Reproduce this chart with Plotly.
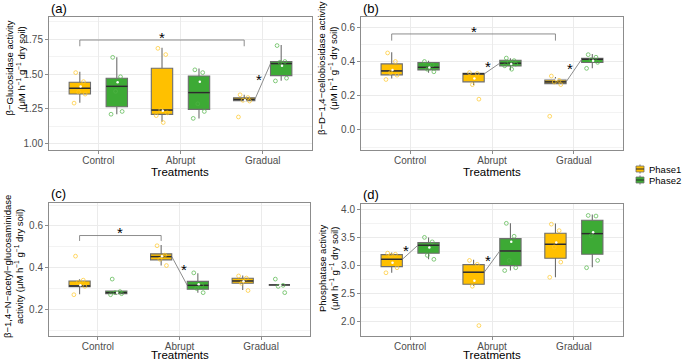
import plotly.graph_objects as go

categories = ["Control", "Abrupt", "Gradual"]
phases = ["Phase1", "Phase2"]

# stats per category: (lower whisker, q1, median, q3, upper whisker)
a_phase1_stats = [(1.293, 1.356, 1.397, 1.440, 1.517), (1.156, 1.209, 1.240, 1.541, 1.690), (1.305, 1.308, 1.317, 1.329, 1.350)]
a_phase2_stats = [(1.209, 1.264, 1.411, 1.469, 1.620), (1.180, 1.245, 1.366, 1.486, 1.540), (1.452, 1.488, 1.575, 1.589, 1.710)]
b_phase1_stats = [(0.300, 0.322, 0.345, 0.386, 0.454), (0.263, 0.281, 0.328, 0.331, 0.335), (0.270, 0.271, 0.281, 0.292, 0.310)]
b_phase2_stats = [(0.335, 0.351, 0.366, 0.394, 0.405), (0.351, 0.374, 0.390, 0.407, 0.419), (0.360, 0.394, 0.413, 0.419, 0.444)]
c_phase1_stats = [(0.272, 0.309, 0.312, 0.336, 0.344), (0.410, 0.437, 0.453, 0.466, 0.509), (0.293, 0.325, 0.336, 0.349, 0.362)]
c_phase2_stats = [(0.270, 0.275, 0.280, 0.288, 0.290), (0.280, 0.296, 0.315, 0.334, 0.373), (0.317, 0.317, 0.317, 0.317, 0.317)]
d_phase1_stats = [(2.870, 2.979, 3.110, 3.193, 3.230), (2.635, 2.665, 2.880, 3.015, 3.100), (2.790, 3.128, 3.377, 3.573, 3.745)]
d_phase2_stats = [(3.110, 3.217, 3.360, 3.407, 3.500), (2.910, 2.997, 3.258, 3.478, 3.750), (2.970, 3.199, 3.567, 3.804, 3.905)]

# individual observations
a_phase1_points = [[1.51, 1.445, 1.37, 1.355, 1.29], [1.685, 1.64, 1.24, 1.22, 1.20, 1.15], [1.35, 1.33, 1.31, 1.305, 1.19]]
a_phase2_points = [[1.62, 1.48, 1.375, 1.23, 1.21], [1.53, 1.51, 1.285, 1.23, 1.18], [1.705, 1.59, 1.585, 1.47, 1.45]]
b_phase1_points = [[0.45, 0.40, 0.335, 0.32, 0.295], [0.335, 0.33, 0.265, 0.18], [0.315, 0.29, 0.28, 0.265, 0.08]]
b_phase2_points = [[0.40, 0.38, 0.355, 0.34], [0.42, 0.405, 0.395, 0.385, 0.375, 0.355], [0.44, 0.425, 0.41, 0.395, 0.36]]
c_phase1_points = [[0.455, 0.34, 0.33, 0.31, 0.27], [0.505, 0.46, 0.44, 0.41], [0.36, 0.35, 0.325, 0.29]]
c_phase2_points = [[0.345, 0.285, 0.28, 0.275, 0.27], [0.375, 0.315, 0.30, 0.28], [0.345, 0.315, 0.31, 0.28]]
d_phase1_points = [[3.22, 3.20, 3.18, 2.96, 2.87], [3.09, 3.02, 2.63, 1.93], [3.735, 3.62, 3.33, 3.06, 2.79]]
d_phase2_points = [[3.50, 3.42, 3.18, 3.11], [3.75, 3.52, 3.09, 2.96, 2.91], [3.89, 3.88, 3.53, 3.09, 2.96]]

# group means (white dots)
a_phase1_means = [1.41, 1.235, 1.31]
a_phase2_means = [1.44, 1.445, 1.56]
b_phase1_means = [0.35, 0.30, 0.295]
b_phase2_means = [0.365, 0.385, 0.405]
c_phase1_means = [0.315, 0.455, 0.335]
c_phase2_means = [0.28, 0.32, 0.315]
d_phase1_means = [3.05, 2.73, 3.41]
d_phase2_means = [3.32, 3.42, 3.59]

# significance
a_paired = ["Gradual"]
b_paired = ["Abrupt", "Gradual"]
c_paired = ["Abrupt"]
d_paired = ["Control", "Abrupt"]
a_bracket = ("Control", "Gradual", 1.745, 1.700)
b_bracket = ("Control", "Gradual", 0.561, 0.522)
c_bracket = ("Control", "Abrupt", 0.554, 0.528)

x_title = "Treatments"
a_title = "β−Glucosidase activity<br>(μM h<sup>−1</sup> g<sup>−1</sup> dry soil)"
b_title = "β−D−1,4−cellobiosidase activity<br>(μM h<sup>−1</sup> g<sup>−1</sup> dry soil)"
c_title = "β−1,4−N−acetyl−glucosaminidase<br>activity (μM h<sup>−1</sup> g<sup>−1</sup> dry soil)"
d_title = "Phosphatase activity<br>(μM h<sup>−1</sup> g<sup>−1</sup> dry soil)"

# ---------- styling ----------
W, H = 685, 361
FONT = "Liberation Sans, Arial, sans-serif"
COLORS = ["#FFC000", "#3DAA35"]
PT_COLORS = ["rgba(255,200,40,0.7)", "rgba(80,180,70,0.7)"]
OFF = [-0.225, 0.225]
BOXW = 0.26
JITTER = [-0.05, 0.045, -0.015, 0.065, -0.07, 0.015]
GRID = "#EBEBEB"
BORDER = "#8C8C8C"
TICK = "#4D4D4D"
LINE = "#808080"
BOXLINE = "#6E6E6E"

panels = [
    dict(k="a", px=(49, 312), py=(17, 150), yr=[0.952, 1.911], dt=0.25, fmt=".2f", title=a_title,
         s=[a_phase1_stats, a_phase2_stats], p=[a_phase1_points, a_phase2_points], m=[a_phase1_means, a_phase2_means],
         paired=a_paired, bracket=a_bracket, lab=(49, 8), yt=(15.5, 68), xt=172),
    dict(k="b", px=(361, 623), py=(17, 150), yr=[-0.117, 0.66], dt=0.2, fmt=".1f", title=b_title,
         s=[b_phase1_stats, b_phase2_stats], p=[b_phase1_points, b_phase2_points], m=[b_phase1_means, b_phase2_means],
         paired=b_paired, bracket=b_bracket, lab=(361, 8), yt=(328, 68), xt=172),
    dict(k="c", px=(49, 310), py=(203, 336), yr=[0.072, 0.71], dt=0.2, fmt=".1f", title=c_title,
         s=[c_phase1_stats, c_phase2_stats], p=[c_phase1_points, c_phase2_points], m=[c_phase1_means, c_phase2_means],
         paired=c_paired, bracket=c_bracket, lab=(49, 193), yt=(13, 267), xt=355),
    dict(k="d", px=(361, 623), py=(204, 336), yr=[1.745, 4.094], dt=0.5, fmt=".1f", title=d_title,
         s=[d_phase1_stats, d_phase2_stats], p=[d_phase1_points, d_phase2_points], m=[d_phase1_means, d_phase2_means],
         paired=d_paired, bracket=None, lab=(361, 194), yt=(328, 269), xt=355),
]

fig = go.Figure()
layout = dict(width=W, height=H, margin=dict(l=0, r=0, t=0, b=0), paper_bgcolor="white",
              plot_bgcolor="white", boxmode="overlay", showlegend=False,
              font=dict(family=FONT, size=10, color="black"))
shapes, annotations = [], []

for idx, P in enumerate(panels):
    n = "" if idx == 0 else str(idx + 1)
    xa, ya = "x" + n, "y" + n
    for ph in range(2):
        stats = P["s"][ph]
        xs = [i + 1 + OFF[ph] for i in range(len(categories))]
        fig.add_trace(go.Box(
            x=xs, lowerfence=[s[0] for s in stats], q1=[s[1] for s in stats], median=[s[2] for s in stats],
            q3=[s[3] for s in stats], upperfence=[s[4] for s in stats], width=BOXW, whiskerwidth=0,
            fillcolor=COLORS[ph], line=dict(color=BOXLINE, width=1.1), boxpoints=False,
            name=phases[ph], legendgroup=phases[ph], hoverinfo="skip",
            xaxis=xa, yaxis=ya))
        # darker median lines
        mx, my = [], []
        for x0, s in zip(xs, stats):
            mx += [x0 - BOXW / 2, x0 + BOXW / 2, None]
            my += [s[2], s[2], None]
        fig.add_trace(go.Scatter(x=mx, y=my, mode="lines", line=dict(color="#2B2B2B", width=1.4),
                                 hoverinfo="skip", xaxis=xa, yaxis=ya))
        # jittered points
        px_, py_ = [], []
        for x0, pts in zip(xs, P["p"][ph]):
            for j, v in enumerate(pts):
                px_.append(x0 + JITTER[j % len(JITTER)])
                py_.append(v)
        fig.add_trace(go.Scatter(x=px_, y=py_, mode="markers",
                                 marker=dict(symbol="circle-open", size=3.8, color=PT_COLORS[ph], line=dict(width=1)),
                                 hoverinfo="skip", xaxis=xa, yaxis=ya))
        fig.add_trace(go.Scatter(x=[x + 0.01 for x in xs], y=P["m"][ph], mode="markers",
                                 marker=dict(symbol="circle", size=2.5, color="white"),
                                 hoverinfo="skip", xaxis=xa, yaxis=ya))
    # paired lines + stars
    yspan = P["yr"][1] - P["yr"][0]
    for cat in P["paired"]:
        i = categories.index(cat)
        m1 = P["s"][0][i][2]
        m2 = P["s"][1][i][2]
        x1 = i + 1 + OFF[0] + BOXW / 2
        x2 = i + 1 + OFF[1] - BOXW / 2
        fig.add_trace(go.Scatter(x=[x1, x2], y=[m1, m2], mode="lines", line=dict(color=LINE, width=0.9),
                                 hoverinfo="skip", xaxis=xa, yaxis=ya))
        sign = 1 if m2 > m1 else -1
        annotations.append(dict(x=(x1 + x2) / 2 - sign * 0.05, y=(m1 + m2) / 2 + 0.012 * yspan, xref=xa, yref=ya,
                                text="*", showarrow=False, font=dict(size=15, color="black"),
                                xanchor="center", yanchor="middle"))
    if P["bracket"]:
        c1, c2, ytop, yleg = P["bracket"]
        xb1 = categories.index(c1) + 1 + OFF[0]
        xb2 = categories.index(c2) + 1 + OFF[0]
        fig.add_trace(go.Scatter(x=[xb1, xb1, xb2, xb2], y=[yleg, ytop, ytop, yleg], mode="lines",
                                 line=dict(color=LINE, width=0.9), hoverinfo="skip",
                                 xaxis=xa, yaxis=ya))
        annotations.append(dict(x=(xb1 + xb2) / 2, y=ytop + 0.02 * yspan, xref=xa, yref=ya, text="*",
                                showarrow=False, font=dict(size=15, color="black"), xanchor="center",
                                yanchor="middle"))
    # axes
    l, r = P["px"]
    t, b = P["py"]
    xkey = "xaxis" + n
    ykey = "yaxis" + n
    layout[xkey] = dict(domain=[l / W, r / W], anchor=ya, range=[0.4, 3.6], tickmode="array",
                        tickvals=[1, 2, 3], ticktext=categories, showgrid=True, gridcolor=GRID, gridwidth=1,
                        zeroline=False, showline=True, mirror=True, linecolor=BORDER, linewidth=1,
                        ticks="outside", ticklen=3, tickcolor=BORDER, tickfont=dict(size=10, color=TICK),
                        ticklabelstandoff=-2)
    layout[ykey] = dict(domain=[1 - b / H, 1 - t / H], anchor=xa, range=P["yr"], dtick=P["dt"], tick0=0,
                        tickformat=P["fmt"], showgrid=True, gridcolor=GRID, gridwidth=1, zeroline=False,
                        showline=True, mirror=True, linecolor=BORDER, linewidth=1, ticks="outside",
                        ticklen=3, tickcolor=BORDER, tickfont=dict(size=10, color=TICK),
                        minor=dict(dtick=P["dt"] / 2, tick0=0, showgrid=True, gridcolor="#F3F3F3", gridwidth=0.6))
    annotations.append(dict(x=P["lab"][0] / W, y=1 - P["lab"][1] / H, xref="paper", yref="paper",
                            text="(" + P["k"] + ")", showarrow=False, xanchor="left", yanchor="middle",
                            font=dict(size=13, color="black")))
    annotations.append(dict(x=(l + r) / 2 / W, y=1 - P["xt"] / H, xref="paper", yref="paper",
                            text=x_title, showarrow=False, xanchor="center", yanchor="middle",
                            font=dict(size=11.5, color="black")))
    annotations.append(dict(x=P["yt"][0] / W, y=1 - P["yt"][1] / H, xref="paper", yref="paper",
                            text=P["title"], textangle=-90, showarrow=False, xanchor="center",
                            yanchor="middle", font=dict(size=9.5, color="black")))

# manual legend (ggplot style key)
for ph, yc in zip(range(2), [169, 180]):
    x0, x1 = 636 / W, 644 / W
    shapes.append(dict(type="line", xref="paper", yref="paper", x0=640 / W, x1=640 / W,
                       y0=1 - (yc - 4.5) / H, y1=1 - (yc + 4.5) / H, line=dict(color=BOXLINE, width=1)))
    shapes.append(dict(type="rect", xref="paper", yref="paper", x0=x0, x1=x1,
                       y0=1 - (yc - 3) / H, y1=1 - (yc + 3) / H, fillcolor=COLORS[ph],
                       line=dict(color=BOXLINE, width=0.8)))
    shapes.append(dict(type="line", xref="paper", yref="paper", x0=x0, x1=x1,
                       y0=1 - yc / H, y1=1 - yc / H, line=dict(color="#2B2B2B", width=1)))
    annotations.append(dict(x=646.5 / W, y=1 - yc / H, xref="paper", yref="paper", text=phases[ph],
                            showarrow=False, xanchor="left", yanchor="middle",
                            font=dict(size=9.5, color="black")))

layout["shapes"] = shapes
layout["annotations"] = annotations
fig.update_layout(**layout)
fig.write_html("out.html", config={"displayModeBar": False},
               post_script="document.body.style.margin='0';document.body.style.padding='0';")
